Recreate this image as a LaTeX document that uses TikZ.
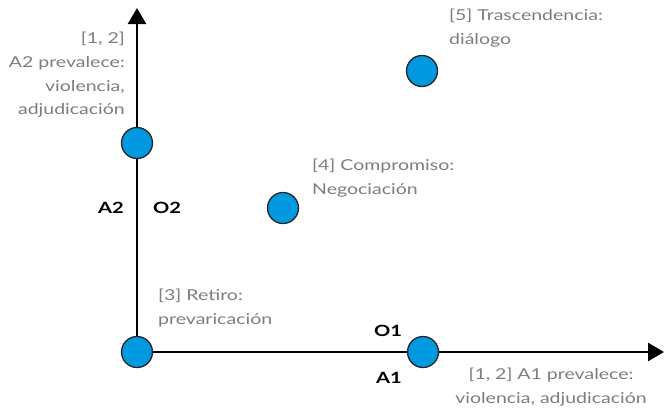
\documentclass[tikz,border=0pt]{standalone}
\usepackage{fontspec}
\setmainfont{Lato}[FakeStretch=1.3]
\usetikzlibrary{arrows.meta}
\pgfdeclarelayer{background}
\pgfsetlayers{background,main}
\definecolor{dotblue}{RGB}{0,152,222}
\definecolor{txtgray}{RGB}{125,125,125}
\begin{document}
\begin{tikzpicture}[x=1pt,y=-1pt,
  axis/.style={line width=2.6pt,-{Triangle[length=16pt,width=18pt]}},
  dot/.style={circle,draw=black!85,line width=1.3pt,fill=dotblue,minimum size=31pt,inner sep=0pt},
  lbl/.style={text=txtgray,font=\fontsize{15}{23.7}\selectfont,inner sep=0pt},
  axlbl/.style={font=\bfseries\fontsize{15.5}{17}\selectfont,inner sep=0pt}]
\useasboundingbox (0,0) rectangle (664,410);
\coordinate (ytip) at (137,8);
\coordinate (xtip) at (664,352);
\node[dot] (o) at (137,352) {};
\node[dot] (a2) at (137,143) {};
\node[dot] (c) at (283,208) {};
\node[dot] (t) at (422,71) {};
\node[dot] (a1) at (423,352) {};
\begin{pgfonlayer}{background}
\draw[axis] (o.center) -- (ytip);
\draw[axis] (o.center) -- (xtip);
\end{pgfonlayer}
\node[lbl,align=right,anchor=north east] (l12) at (125,32) {[1, 2]\\A2 prevalece:\\violencia,\\adjudicación};
\node[lbl,align=left,anchor=north west] (l5) at (449,9) {[5] Trascendencia:\\diálogo};
\node[lbl,align=left,anchor=north west] (l4) at (312,159) {[4] Compromiso:\\Negociación};
\node[lbl,align=left,anchor=north west] (l3) at (158,289) {[3] Retiro:\\prevaricación};
\node[lbl,align=center,anchor=north] (l1) at (551,368) {[1, 2] A1 prevalece:\\violencia, adjudicación};
\node[axlbl] (A2) at (111,208) {A2};
\node[axlbl] (O2) at (167,208) {O2};
\node[axlbl] (O1) at (388,331) {O1};
\node[axlbl] (A1) at (389,378) {A1};
\end{tikzpicture}
\end{document}
